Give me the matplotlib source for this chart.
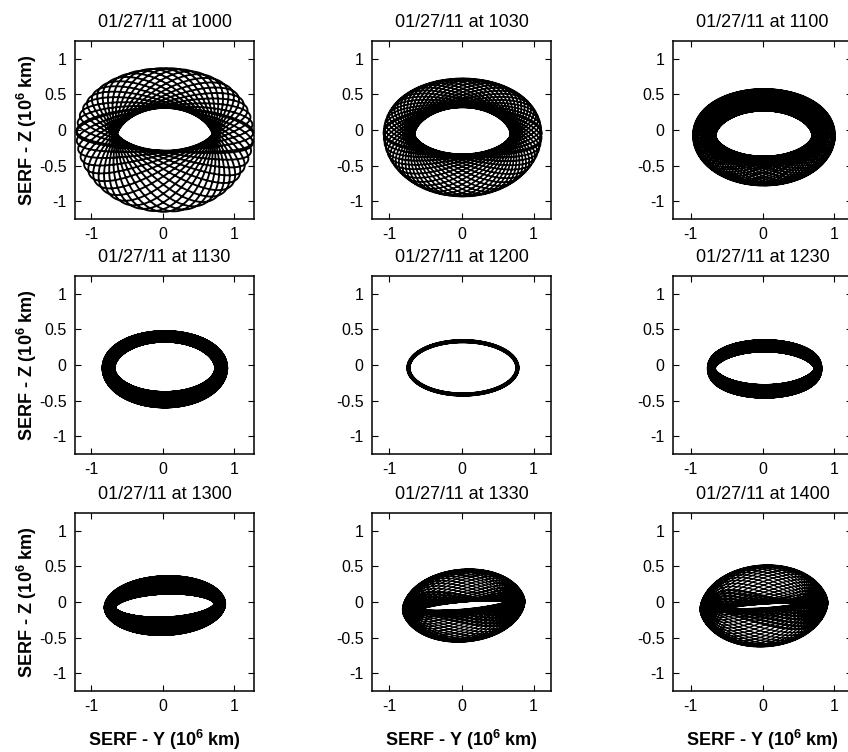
import numpy as np
import matplotlib
matplotlib.use("Agg")
import matplotlib.pyplot as plt

plt.rcParams['font.family'] = ['Liberation Sans', 'DejaVu Sans']
plt.rcParams['mathtext.fontset'] = 'custom'
plt.rcParams['mathtext.rm'] = 'Liberation Sans'
plt.rcParams['mathtext.bf'] = 'Liberation Sans:bold'

# ---------------- data ----------------
titles = ['01/27/11 at 1000', '01/27/11 at 1030', '01/27/11 at 1100',
          '01/27/11 at 1130', '01/27/11 at 1200', '01/27/11 at 1230',
          '01/27/11 at 1300', '01/27/11 at 1330', '01/27/11 at 1400']
xticks = [-1, 0, 1]
xtick_labels = ['-1', '0', '1']
yticks = [-1, -0.5, 0, 0.5, 1]
ytick_labels = ['-1', '-0.5', '0', '0.5', '1']
xlabel = 'SERF - Y (10$^{\\mathbf{6}}$ km)'
ylabel = 'SERF - Z (10$^{\\mathbf{6}}$ km)'

# rosette orbits (panels 1-6): centre, semi-axes, drift amplitudes, winding, revolutions
ros_cx = [0.03, 0.015, 0.02, 0.03, 0.02, 0.03]
ros_cy = [-0.065, -0.058, -0.076, -0.043, -0.04, -0.05]
ros_a = [0.955, 0.88, 0.83, 0.79, 0.755, 0.745]
ros_b = [0.655, 0.58, 0.50, 0.445, 0.375, 0.32]
ros_p = [0.285, 0.215, 0.16, 0.088, 0.014, 0.05]
ros_q = [0.355, 0.25, 0.18, 0.095, 0.014, 0.088]
ros_m = [0.075, 0.047, 0.026, 0.017, 0.0, 0.005]
ros_w = [-1.043, -1.034, -1.027, -1.021, -1.1, -1.019]
ros_rev = [24, 30, 38, 48, 10, 52]
ros_lw = [1.35, 1.25, 1.1, 1.0, 1.6, 1.0]

# quasi-halo tori seen obliquely (panels 7-9)
tor_cx = [0.03, 0.03, 0.02]
tor_cy = [-0.05, -0.05, -0.055]
tor_A = [0.77, 0.76, 0.79]
tor_by = [0.29, 0.28, 0.30]
tor_rin = [0.08, 0.09, 0.10]
tor_rout = [0.14, 0.26, 0.31]
tor_taper = [0.5, 0.3, 0.3]
tor_w = [-1.025, -1.03, -1.03]
tor_rev = [48, 40, 40]
tor_rot = [0.04, 0.09, 0.07]

# ---------------- curves ----------------
def rosette(k):
    t = np.linspace(0, 2 * np.pi * ros_rev[k], 420 * ros_rev[k])
    u = ros_w[k] * t
    x = ros_cx[k] + ros_a[k] * np.cos(t) + ros_p[k] * np.cos(u)
    y = ros_cy[k] + (ros_b[k] - ros_m[k] * np.sin(u)) * np.sin(t) + ros_q[k] * np.sin(u)
    return x, y

def torus(k, inc=np.radians(60)):
    t = np.linspace(0, 2 * np.pi * tor_rev[k], 420 * tor_rev[k])
    th = tor_w[k] * t
    A = tor_A[k]
    B = tor_by[k] / np.cos(inc)
    nx = B * np.cos(t)
    ny = A * np.sin(t)
    nn = np.hypot(nx, ny)
    nx, ny = nx / nn, ny / nn
    taper = tor_taper[k] + (1 - tor_taper[k]) * np.abs(np.sin(t))
    X = A * np.cos(t) + tor_rin[k] * np.cos(th) * nx
    Y = B * np.sin(t) + tor_rin[k] * np.cos(th) * ny
    Z = tor_rout[k] * taper * np.sin(th)
    sx = X
    sy = Y * np.cos(inc) + Z * np.sin(inc)
    r = tor_rot[k]
    x = tor_cx[k] + sx * np.cos(r) - sy * np.sin(r)
    y = tor_cy[k] + sx * np.sin(r) + sy * np.cos(r)
    return x, y

# ---------------- layout ----------------
W, H = 848, 752
fig = plt.figure(figsize=(W / 100, H / 100), dpi=100)
fig.patch.set_facecolor('white')
col_left = [75, 372, 673]
col_xlim = [(-1.23, 1.28), (-1.24, 1.24), (-1.245, 1.245)]
row_top = [41, 276, 513]
aw, ah = 179, 178

for k in range(9):
    r, c = divmod(k, 3)
    ax = fig.add_axes([col_left[c] / W, 1 - (row_top[r] + ah) / H, aw / W, ah / H])
    if k < 6:
        x, y = rosette(k)
        lw = ros_lw[k]
    else:
        x, y = torus(k - 6)
        lw = 0.95
    ax.plot(x, y, color='black', lw=lw, solid_joinstyle='round')
    ax.set_xlim(*col_xlim[c])
    ax.set_ylim(-1.25, 1.25)
    ax.set_xticks(xticks)
    ax.set_xticklabels(xtick_labels)
    ax.set_yticks(yticks)
    ax.set_yticklabels(ytick_labels)
    ax.tick_params(direction='in', length=4, width=0.8, top=True, right=True,
                   labelsize=11.5, pad=6, colors='black')
    for s in ax.spines.values():
        s.set_linewidth(1.1)
    ax.set_title(titles[k], fontsize=13, pad=10)
    if r == 2:
        ax.set_xlabel(xlabel, fontsize=13, fontweight='bold')
        ax.xaxis.set_label_coords(0.5, -0.205)
    if c == 0:
        ax.set_ylabel(ylabel, fontsize=13, fontweight='bold')
        ax.yaxis.set_label_coords(-0.20, 0.5)

fig.savefig('out.png', dpi=100)
